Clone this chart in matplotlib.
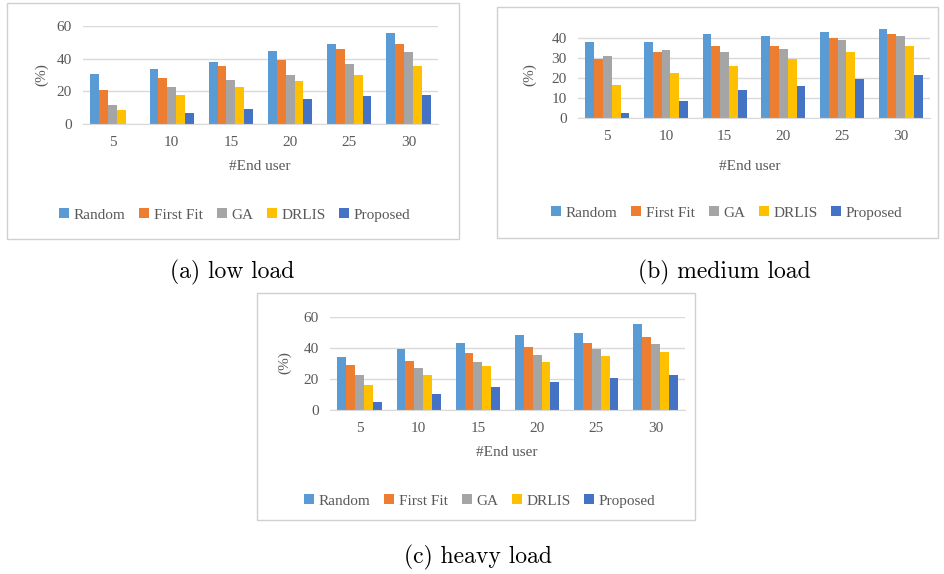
import numpy as np
import matplotlib.pyplot as plt
from matplotlib.patches import Rectangle

end_users = ['5', '10', '15', '20', '25', '30']
methods = ['Random', 'First Fit', 'GA', 'DRLIS', 'Proposed']
colors = ['#5B9BD5', '#ED7D31', '#A5A5A5', '#FFC000', '#4472C4']

# (a) low load
low_random = [30.6, 33.4, 37.9, 45.0, 48.7, 55.9]
low_firstfit = [20.9, 28.0, 35.3, 38.9, 46.0, 48.7]
low_ga = [11.8, 22.5, 27.2, 29.8, 36.9, 44.2]
low_drlis = [8.3, 18.0, 22.5, 26.1, 29.8, 35.3]
low_proposed = [0.0, 6.5, 9.1, 15.4, 17.2, 18.0]

# (b) medium load
med_random = [38.2, 38.2, 41.8, 41.0, 43.2, 44.7]
med_firstfit = [29.7, 33.2, 36.2, 36.0, 39.8, 42.0]
med_ga = [30.8, 33.8, 33.2, 34.5, 38.8, 41.0]
med_drlis = [16.7, 22.5, 26.0, 29.7, 33.2, 36.0]
med_proposed = [2.3, 8.7, 13.8, 15.8, 19.5, 21.5]

# (c) heavy load
heavy_random = [33.9, 39.6, 43.5, 48.2, 49.9, 55.7]
heavy_firstfit = [29.1, 31.3, 36.9, 40.5, 43.5, 47.1]
heavy_ga = [22.5, 27.2, 31.1, 35.8, 39.6, 42.4]
heavy_drlis = [15.9, 22.5, 28.1, 31.1, 34.7, 37.7]
heavy_proposed = [5.4, 10.1, 15.0, 17.8, 20.6, 22.5]

W, H = 945, 574
txt_color = '#595959'
grid_color = '#D9D9D9'
chart_font = 'Liberation Serif'
fs = 11


def fx(px):
    return px / W


def fy(py):
    return 1 - py / H


def panel(fig, series, box, plot, ymax, yticks, ylab_pos, xlab_pos, leg_pos):
    # box: (left, top, right, bottom) in pixels
    l, t, r, b = box
    fig.patches.append(Rectangle((fx(l), fy(b)), fx(r - l), (b - t) / H,
                                 transform=fig.transFigure, fill=False,
                                 edgecolor='#D0D0D0', linewidth=1.0))
    pl, pt, pr, pb = plot
    ax = fig.add_axes([fx(pl), fy(pb), fx(pr - pl), (pb - pt) / H])
    x = np.arange(len(end_users))
    width = 0.15
    for i, (vals, name, c) in enumerate(zip(series, methods, colors)):
        ax.bar(x + (i - 2) * width, vals, width, color=c, label=name)
    ax.set_xlim(-0.5, len(end_users) - 0.5)
    ax.set_ylim(0, ymax)
    ax.set_yticks(yticks)
    ax.set_xticks(x)
    ax.set_xticklabels(end_users)
    for s in ['top', 'right', 'left']:
        ax.spines[s].set_visible(False)
    ax.spines['bottom'].set_color(grid_color)
    ax.yaxis.grid(True, color=grid_color, linewidth=1.0)
    ax.set_axisbelow(True)
    ax.tick_params(axis='both', length=0, labelsize=fs, labelcolor=txt_color)
    ax.tick_params(axis='x', pad=9)
    ax.tick_params(axis='y', pad=8)
    for lab in ax.get_xticklabels() + ax.get_yticklabels():
        lab.set_family(chart_font)
    fig.text(fx(ylab_pos[0]), fy(ylab_pos[1]), '(%)', rotation=90,
             ha='center', va='center', fontsize=fs, color=txt_color,
             family=chart_font)
    fig.text(fx(xlab_pos[0]), fy(xlab_pos[1]), '#End user', ha='center',
             va='center', fontsize=fs, color=txt_color, family=chart_font)
    leg = ax.legend(loc='center', bbox_to_anchor=(fx(leg_pos[0]), fy(leg_pos[1])),
                    bbox_transform=fig.transFigure, ncol=5, frameon=False,
                    handlelength=0.65, handleheight=0.65, handletextpad=0.3,
                    columnspacing=0.9, prop={'family': chart_font, 'size': fs})
    for t_ in leg.get_texts():
        t_.set_color(txt_color)
    return ax


fig = plt.figure(figsize=(9.45, 5.74), dpi=100)

panel(fig, [low_random, low_firstfit, low_ga, low_drlis, low_proposed],
      (7, 3, 459, 239), (83, 26, 438, 124), 60, [0, 20, 40, 60],
      (42, 75), (260, 167), (235, 215))
panel(fig, [med_random, med_firstfit, med_ga, med_drlis, med_proposed],
      (497, 7, 938, 238), (578, 26, 930, 118), 46, [0, 10, 20, 30, 40],
      (530, 75), (750, 167), (727, 213))
panel(fig, [heavy_random, heavy_firstfit, heavy_ga, heavy_drlis, heavy_proposed],
      (257, 293, 695, 520), (330, 317, 685, 410), 60, [0, 20, 40, 60],
      (285, 363), (507, 453), (480, 501))

cap_font = 'cmr10'
cap_fs = 17
fig.text(fx(232), fy(272), '(a) low load', ha='center', va='center',
         fontsize=cap_fs, family=cap_font)
fig.text(fx(724), fy(272), '(b) medium load', ha='center', va='center',
         fontsize=cap_fs, family=cap_font)
fig.text(fx(478), fy(557), '(c) heavy load', ha='center', va='center',
         fontsize=cap_fs, family=cap_font)

fig.savefig('out.png', dpi=100)
